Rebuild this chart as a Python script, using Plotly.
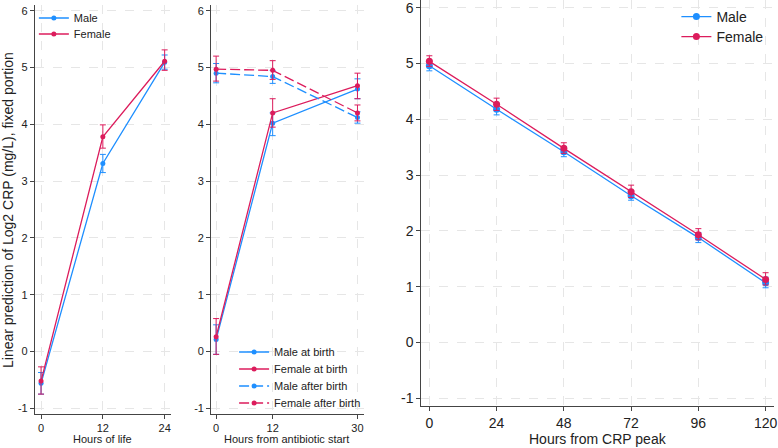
import plotly.graph_objects as go

W, H = 778, 448
BLUE = "#1e8fff"
RED = "#dc1c5c"

# Panel 1: Hours of life
p1_x = [0, 12, 24]
p1_male = [-0.56, 3.31, 5.09]
p1_male_lo = [-0.75, 3.15, 4.97]
p1_male_hi = [-0.37, 3.47, 5.22]
p1_female = [-0.52, 3.78, 5.11]
p1_female_lo = [-0.75, 3.58, 4.95]
p1_female_hi = [-0.27, 3.99, 5.31]

# Panel 2: Hours from antibiotic start
p2_x = [0, 12, 30]
p2_male_birth = [0.21, 4.02, 4.62]
p2_male_birth_lo = [-0.05, 3.80, 4.45]
p2_male_birth_hi = [0.47, 4.20, 4.80]
p2_female_birth = [0.26, 4.20, 4.68]
p2_female_birth_lo = [-0.05, 3.95, 4.45]
p2_female_birth_hi = [0.58, 4.45, 4.90]
p2_male_after = [4.90, 4.84, 4.12]
p2_male_after_lo = [4.73, 4.72, 4.02]
p2_male_after_hi = [5.07, 4.95, 4.22]
p2_female_after = [4.97, 4.95, 4.20]
p2_female_after_lo = [4.76, 4.79, 4.06]
p2_female_after_hi = [5.20, 5.12, 4.34]

# Panel 3: Hours from CRP peak
p3_x = [0, 24, 48, 72, 96, 120]
p3_male = [4.96, 4.18, 3.42, 2.63, 1.88, 1.07]
p3_male_lo = [4.87, 4.08, 3.33, 2.55, 1.79, 0.98]
p3_male_hi = [5.05, 4.28, 3.51, 2.72, 1.97, 1.17]
p3_female = [5.04, 4.27, 3.48, 2.70, 1.93, 1.13]
p3_female_lo = [4.95, 4.16, 3.39, 2.60, 1.84, 1.03]
p3_female_hi = [5.14, 4.38, 3.58, 2.82, 2.04, 1.25]

y_ticks = [-1, 0, 1, 2, 3, 4, 5, 6]
y_ticktext = ["-1", "0", "1", "2", "3", "4", "5", "6"]

FONT = "Liberation Sans, Arial, sans-serif"

fig = go.Figure()


def add(x, y, lo, hi, color, name, xa, ya, legend, dash="solid", msize=6, lw=1.3):
    fig.add_trace(go.Scatter(
        x=x, y=y, name=name, mode="lines+markers",
        line=dict(color=color, width=lw, dash=dash),
        marker=dict(color=color, size=msize),
        error_y=dict(type="data", symmetric=False,
                     array=[h - v for h, v in zip(hi, y)],
                     arrayminus=[v - l for v, l in zip(y, lo)],
                     color=color, thickness=1, width=3),
        xaxis=xa, yaxis=ya, legend=legend,
    ))


add(p1_x, p1_male, p1_male_lo, p1_male_hi, BLUE, "Male", "x", "y", "legend", msize=5)
add(p1_x, p1_female, p1_female_lo, p1_female_hi, RED, "Female", "x", "y", "legend2", msize=5)

add(p2_x, p2_male_birth, p2_male_birth_lo, p2_male_birth_hi, BLUE, "Male at birth", "x2", "y2", "legend3", msize=5)
add(p2_x, p2_female_birth, p2_female_birth_lo, p2_female_birth_hi, RED, "Female at birth", "x2", "y2", "legend4", msize=5)
add(p2_x, p2_male_after, p2_male_after_lo, p2_male_after_hi, BLUE, "Male after birth", "x2", "y2", "legend5", dash="10px,4px", msize=5)
add(p2_x, p2_female_after, p2_female_after_lo, p2_female_after_hi, RED, "Female after birth", "x2", "y2", "legend6", dash="10px,4px", msize=5)

add(p3_x, p3_male, p3_male_lo, p3_male_hi, BLUE, "Male", "x3", "y3", "legend7", msize=7)
add(p3_x, p3_female, p3_female_lo, p3_female_hi, RED, "Female", "x3", "y3", "legend8", msize=7)


def px(v):
    return v / W


def py(v):
    return 1 - v / H


axis_common = dict(showline=True, linecolor="#444", linewidth=1, ticks="outside",
                   ticklen=4, tickcolor="#444", showgrid=True, gridcolor="#e6e6e6",
                   griddash="dash", gridwidth=1, zeroline=False, mirror=False,
                   ticklabeloverflow="allow")

leg = lambda x, y, size: dict(x=px(x), y=py(y), xanchor="left", yanchor="middle",
                              bgcolor="rgba(0,0,0,0)", font=dict(size=size), itemwidth=30)

fig.update_layout(
    width=W, height=H, margin=dict(l=0, r=0, t=0, b=0),
    paper_bgcolor="white", plot_bgcolor="white",
    font=dict(family=FONT, color="#222", size=11),
    xaxis=dict(domain=[px(35), px(172)], range=[-1.2, 25.3], tickvals=[0, 12, 24],
               anchor="y", tickfont=dict(size=11), **axis_common),
    yaxis=dict(domain=[py(414), py(5)], range=[-1.1, 6.1], tickvals=y_ticks, ticktext=y_ticktext,
               anchor="x", tickfont=dict(size=11), **axis_common),
    xaxis2=dict(domain=[px(212), px(365)], range=[-1.05, 31.3], tickvals=[0, 12, 30],
                anchor="y2", tickfont=dict(size=11), **axis_common),
    yaxis2=dict(domain=[py(414), py(5)], range=[-1.1, 6.1], tickvals=y_ticks, ticktext=y_ticktext,
                anchor="x2", tickfont=dict(size=11), **axis_common),
    xaxis3=dict(domain=[px(423), px(777)], range=[-2.85, 123], tickvals=p3_x,
                anchor="y3", tickfont=dict(size=14), **axis_common),
    yaxis3=dict(domain=[py(406), py(0)], range=[-1.14, 6.14], tickvals=y_ticks, ticktext=y_ticktext,
                anchor="x3", tickfont=dict(size=14), **axis_common),
    legend=leg(34, 18, 11),
    legend2=leg(34, 34, 11),
    legend3=leg(235, 352, 11),
    legend4=leg(235, 369, 11),
    legend5=leg(235, 386, 11),
    legend6=leg(235, 403, 11),
    legend7=leg(679, 17, 14),
    legend8=leg(679, 37, 14),
    showlegend=True,
)

fig.add_annotation(text="Linear prediction of Log2 CRP (mg/L), fixed portion", textangle=-90,
                   x=px(8), y=py(210), xref="paper", yref="paper", showarrow=False,
                   font=dict(size=14, color="#222"), xanchor="center", yanchor="middle")
fig.add_annotation(text="Hours of life", x=px(103), y=py(439), xref="paper", yref="paper",
                   showarrow=False, font=dict(size=11, color="#222"), xanchor="center", yanchor="middle")
fig.add_annotation(text="Hours from antibiotic start", x=px(288), y=py(439), xref="paper", yref="paper",
                   showarrow=False, font=dict(size=11, color="#222"), xanchor="center", yanchor="middle")
fig.add_annotation(text="Hours from CRP peak", x=px(600), y=py(439), xref="paper", yref="paper",
                   showarrow=False, font=dict(size=14, color="#222"), xanchor="center", yanchor="middle")

fig.write_html("out.html")
